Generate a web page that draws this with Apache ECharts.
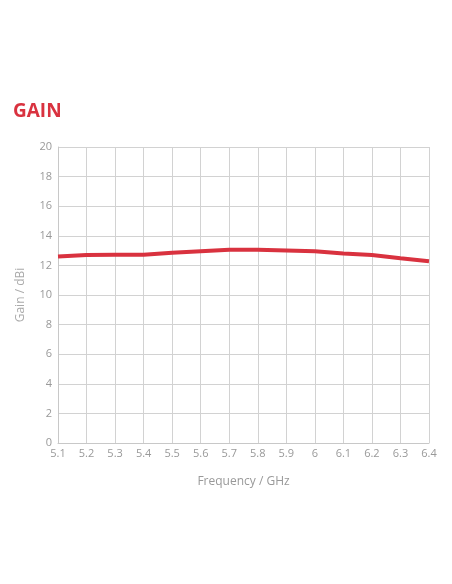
<!DOCTYPE html>
<html>
<head>
<meta charset="utf-8">
<script src="https://cdn.jsdelivr.net/npm/echarts@6/dist/echarts.min.js"></script>
<style>
  html, body { margin: 0; padding: 0; background: #fff; }
  #chart { width: 452px; height: 584px; }
</style>
</head>
<body>
<div id="chart"></div>
<script>
// frequency points (GHz) and measured gain (dBi)
var freqs = ['5.1', '5.2', '5.3', '5.4', '5.5', '5.6', '5.7', '5.8', '5.9', '6', '6.1', '6.2', '6.3', '6.4'];
var gain = [12.6, 12.7, 12.72, 12.72, 12.85, 12.95, 13.05, 13.05, 13.0, 12.95, 12.8, 12.7, 12.48, 12.28];

var chart = echarts.init(document.getElementById('chart'));

var option = {
    animation: false,
    title: {
        text: 'GAIN',
        left: 8,
        top: 97,
        textStyle: {
            color: '#d9323f',
            fontFamily: 'Open Sans',
            fontWeight: 'bold',
            fontSize: 19
        }
    },
    grid: {
        left: 58,
        right: 23,
        top: 147,
        bottom: 141
    },
    xAxis: {
        type: 'category',
        boundaryGap: false,
        data: freqs,
        name: 'Frequency / GHz',
        nameLocation: 'middle',
        nameGap: 33,
        nameTextStyle: { color: '#999', fontFamily: 'Open Sans', fontSize: 12 },
        axisLine: { lineStyle: { color: '#c8c8c8' } },
        axisTick: { show: false },
        axisLabel: { color: '#999', fontFamily: 'Open Sans', fontSize: 11, margin: 5, interval: 0 },
        splitLine: { show: true, lineStyle: { color: '#d2d2d2' } }
    },
    yAxis: {
        type: 'value',
        min: 0,
        max: 20,
        interval: 2,
        name: 'Gain / dBi',
        nameLocation: 'middle',
        nameGap: 31,
        nameTextStyle: { color: '#aaa', fontFamily: 'Open Sans', fontSize: 12 },
        axisLine: { show: true, lineStyle: { color: '#c8c8c8' } },
        axisTick: { show: false },
        axisLabel: { color: '#999', fontFamily: 'Open Sans', fontSize: 11, margin: 6 },
        splitLine: { lineStyle: { color: '#d2d2d2' } }
    },
    series: [{
        name: 'Gain',
        type: 'line',
        data: gain,
        symbol: 'none',
        lineStyle: { color: '#d9323f', width: 4 }
    }]
};
chart.setOption(option);
</script>
</body>
</html>
